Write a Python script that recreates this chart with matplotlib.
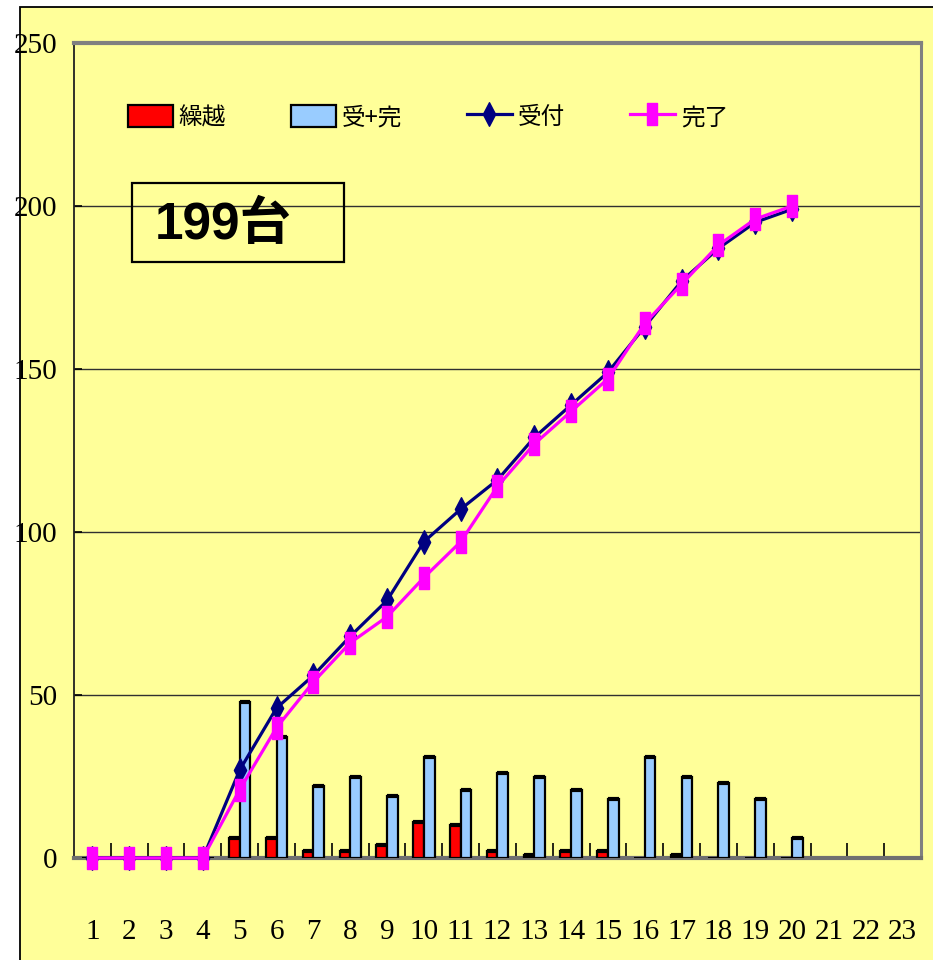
import matplotlib
matplotlib.use('Agg')
import matplotlib.pyplot as plt
from matplotlib.patches import Rectangle, Patch
from matplotlib.lines import Line2D
from matplotlib.path import Path
import numpy as np

plt.rcParams['font.family'] = ['Noto Sans CJK JP', 'DejaVu Sans']

# ---------------- data ----------------
day_labels = [str(d) for d in range(1, 24)]
data_days = list(range(1, 21))
carryover = [0, 0, 0, 0, 6, 6, 2, 2, 4, 11, 10, 2, 1, 2, 2, 0, 1, 0, 0, 0]          # 繰越
combined = [0, 0, 0, 0, 48, 37, 22, 25, 19, 31, 21, 26, 25, 21, 18, 31, 25, 23, 18, 6]  # 受+完
received = [0, 0, 0, 0, 27, 46, 56, 68, 79, 97, 107, 116, 129, 139, 149, 163, 177, 187, 195, 199]  # 受付
completed = [0, 0, 0, 0, 21, 40, 54, 66, 74, 86, 97, 114, 127, 137, 147, 164, 176, 188, 196, 200]  # 完了
y_ticks = [0, 50, 100, 150, 200, 250]
series_labels = ['繰越', '受+完', '受付', '完了']
total_label = '199台'

# ---------------- styling ----------------
YELLOW = '#FFFF99'
RED = '#FF0000'
BLUE = '#99CCFF'
NAVY = '#000080'
PINK = '#FF00FF'
num_font = ['Liberation Serif', 'DejaVu Serif']

W, H = 933, 960
fig = plt.figure(figsize=(W / 100, H / 100), dpi=100, facecolor='white')
bg = Rectangle((20 / W, -0.01), 1.0, 1.01 - 7 / H, transform=fig.transFigure,
               facecolor=YELLOW, edgecolor='black', lw=1.3, zorder=-10)
fig.patches.append(bg)

ax = fig.add_axes([74 / W, 102 / H, 847 / W, 815 / H])
ax.set_zorder(1)
ax.set_facecolor(YELLOW)
ax.set_xlim(0.5, 23.5)
ax.set_ylim(0, 250)

x = np.array(data_days, dtype=float)
bw = 0.29
ax.bar(x - bw / 2, carryover, width=bw, color=RED, edgecolor='black', lw=1.6, zorder=3)
ax.bar(x + bw / 2, combined, width=bw, color=BLUE, edgecolor='black', lw=1.6, zorder=3)
# thicker black top edge of each bar (shadow effect)
for offs, vals in ((-bw / 2, carryover), (bw / 2, combined)):
    v = np.array(vals, dtype=float)
    m = v > 0
    ax.hlines(v[m], x[m] + offs - bw / 2, x[m] + offs + bw / 2, colors='black',
              lw=3.0, zorder=3.5, capstyle='butt')

diamond = Path([(0, 0.5), (0.26, 0), (0, -0.5), (-0.26, 0), (0, 0.5)],
               [Path.MOVETO, Path.LINETO, Path.LINETO, Path.LINETO, Path.CLOSEPOLY])
rect = Path([(-0.21, -0.5), (0.21, -0.5), (0.21, 0.5), (-0.21, 0.5), (-0.21, -0.5)],
            [Path.MOVETO, Path.LINETO, Path.LINETO, Path.LINETO, Path.CLOSEPOLY])

ax.plot(data_days, received, color=NAVY, lw=2.3, marker=diamond, ms=17,
        mfc=NAVY, mec=NAVY, zorder=4, clip_on=False)
ax.plot(data_days, completed, color=PINK, lw=2.3, marker=rect, ms=16,
        mfc=PINK, mec=PINK, zorder=5, clip_on=False)

# grid / spines
ax.set_yticks(y_ticks)
ax.set_yticklabels([str(v) for v in y_ticks], fontfamily=num_font, fontsize=21)
ax.yaxis.grid(True, color='#303030', lw=1.0, zorder=1)
ax.set_axisbelow(True)
ax.spines['top'].set_color('#808080')
ax.spines['top'].set_linewidth(3)
ax.spines['right'].set_color('#808080')
ax.spines['right'].set_linewidth(2.2)
ax.spines['bottom'].set_color('#707070')
ax.spines['bottom'].set_linewidth(3)
ax.spines['left'].set_color('#202020')
ax.spines['left'].set_linewidth(1.3)

ax.set_xticks(range(1, 24))
ax.set_xticklabels(day_labels, fontfamily=num_font, fontsize=21)
ax.set_xticks(np.arange(1.5, 23, 1.0), minor=True)
ax.tick_params(axis='x', which='major', length=0, pad=44)
ax.tick_params(axis='x', which='minor', direction='in', length=11, width=1.2, color='black')
ax.tick_params(axis='y', which='major', direction='in', length=6, width=1.2, pad=12)

# 199台 box
ax.add_patch(Rectangle((0.068, 0.731), 0.251, 0.097, transform=ax.transAxes,
                       fill=False, edgecolor='black', lw=1.6, zorder=6))
ax.text(0.095, 0.776, total_label, transform=ax.transAxes, fontsize=37, fontweight='bold',
        family=['Liberation Sans', 'Noto Sans CJK JP'], ha='left', va='center', zorder=7)

# legend
handles = [
    Patch(facecolor=RED, edgecolor='black', lw=1.6),
    Patch(facecolor=BLUE, edgecolor='black', lw=1.6),
    Line2D([], [], color=NAVY, lw=2.3, marker=diamond, ms=17, mfc=NAVY, mec=NAVY),
    Line2D([], [], color=PINK, lw=2.3, marker=rect, ms=16, mfc=PINK, mec=PINK),
]
leg = ax.legend(handles, series_labels, loc='center left',
                bbox_to_anchor=(128 / W, 1 - 117 / H), bbox_transform=fig.transFigure,
                ncol=4, frameon=False, handlelength=1.9, handleheight=1.1,
                handletextpad=0.25, columnspacing=2.75, borderpad=0, borderaxespad=0,
                prop={'family': ['Noto Sans CJK JP'], 'size': 17})

fig.savefig('out.png', dpi=100, facecolor='white')
